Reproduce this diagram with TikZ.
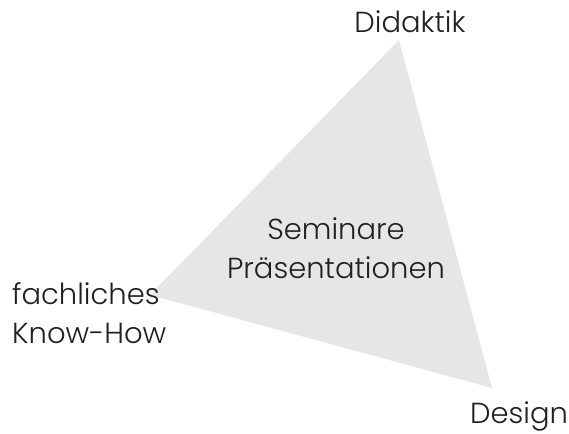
\documentclass[tikz,border=0pt]{standalone}
\usepackage{fontspec}
\setmainfont{Poppins}[UprightFont=* Light]
\usepackage{tikz}

\definecolor{trigray}{HTML}{E6E6E6}
\definecolor{textgray}{HTML}{231F20}

\begin{document}
\begin{tikzpicture}[x=1pt, y=1pt, every node/.style={text=textgray, font=\fontsize{29}{39}\selectfont, inner sep=0pt}]

  \useasboundingbox (0,0) rectangle (569,433);

  % corners of the triangle
  \coordinate (top) at (399,393);
  \coordinate (left) at (150,138);
  \coordinate (right) at (492,45);
  \fill[trigray] (top)--(left)--(right)--cycle;

  \node (didaktik) at (410,411){Didaktik};
  \node[align=center] (seminare) at (336,185){Seminare\\Präsentationen};
  \node[anchor=west, align=left] (fach) at (12,120){fachliches\\Know-How};
  \node (design) at (519,17){Design};

\end{tikzpicture}
\end{document}
